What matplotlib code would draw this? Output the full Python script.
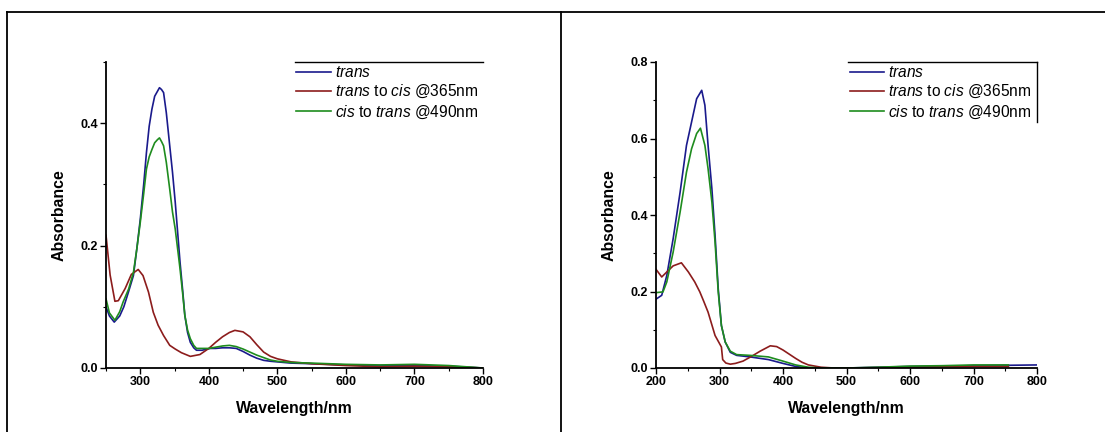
import matplotlib
matplotlib.use("Agg")
import matplotlib.pyplot as plt
from matplotlib.lines import Line2D
from matplotlib.ticker import MultipleLocator, FormatStrFormatter

plt.rcParams['font.family'] = ['Liberation Sans', 'DejaVu Sans']
plt.rcParams['mathtext.fontset'] = 'custom'
plt.rcParams['mathtext.rm'] = 'Liberation Sans'
plt.rcParams['mathtext.it'] = 'Liberation Sans:italic'

# ---------------- Left panel data ----------------
L_wl_trans = [250, 255, 262, 270, 276, 283, 290, 295, 300, 305, 309, 313, 317, 321, 325, 328, 331, 334,
              338, 343, 347, 351, 355, 358, 362, 365, 369, 373, 378, 382, 390, 402, 410, 420, 430,
              440, 450, 460, 470, 480, 490, 500, 520, 550, 600, 650, 700, 750, 800]
L_trans = [0.100, 0.085, 0.075, 0.085, 0.100, 0.125, 0.151, 0.195, 0.243, 0.300, 0.352, 0.395, 0.423,
           0.444, 0.452, 0.458, 0.455, 0.450, 0.417, 0.363, 0.320, 0.271, 0.215, 0.173, 0.125, 0.086,
           0.058, 0.042, 0.033, 0.029, 0.029, 0.032, 0.032, 0.033, 0.033, 0.032, 0.027, 0.021, 0.016,
           0.0125, 0.011, 0.010, 0.008, 0.007, 0.005, 0.004, 0.004, 0.003, 0.000]

L_wl_cis = [250, 256, 263, 268, 278, 287, 297, 304, 312, 319, 326, 334, 343, 351, 360, 373, 387, 400,
            410, 420, 430, 438, 450, 460, 470, 480, 490, 500, 520, 550, 600, 650, 700, 750, 800]
L_cis = [0.217, 0.152, 0.109, 0.110, 0.130, 0.153, 0.161, 0.151, 0.124, 0.091, 0.070, 0.053, 0.037,
         0.031, 0.025, 0.019, 0.022, 0.032, 0.042, 0.051, 0.058, 0.0615, 0.059, 0.051, 0.038, 0.026,
         0.019, 0.015, 0.010, 0.007, 0.004, 0.002, 0.003, 0.002, 0.000]

L_wl_back = [250, 255, 263, 270, 275, 283, 290, 295, 300, 305, 309, 313, 317, 321, 325, 328, 331, 334,
             338, 343, 347, 351, 355, 358, 362, 365, 369, 373, 378, 382, 390, 400, 410, 420, 430, 440,
             450, 460, 470, 480, 490, 500, 520, 550, 600, 650, 700, 750, 800]
L_back = [0.113, 0.090, 0.078, 0.092, 0.108, 0.129, 0.156, 0.195, 0.238, 0.285, 0.325, 0.345, 0.357,
          0.368, 0.373, 0.376, 0.370, 0.363, 0.336, 0.292, 0.255, 0.227, 0.190, 0.162, 0.120, 0.086,
          0.062, 0.048, 0.037, 0.032, 0.032, 0.032, 0.034, 0.036, 0.037, 0.035, 0.031, 0.026, 0.021,
          0.017, 0.013, 0.011, 0.009, 0.008, 0.006, 0.005, 0.006, 0.004, 0.000]

# ---------------- Right panel data ----------------
R_wl_trans = [200, 209, 217, 227, 238, 248, 256, 264, 272, 277, 282, 288, 293, 298, 303, 309, 317, 327,
              348, 377, 400, 420, 440, 460, 500, 550, 600, 650, 700, 750, 800]
R_trans = [0.180, 0.190, 0.242, 0.338, 0.460, 0.582, 0.643, 0.704, 0.726, 0.687, 0.582, 0.469, 0.347,
           0.207, 0.111, 0.068, 0.041, 0.033, 0.029, 0.022, 0.012, 0.004, 0.000, 0.000, 0.000, 0.002,
           0.004, 0.005, 0.006, 0.007, 0.008]

R_wl_cis = [200, 209, 217, 227, 240, 251, 261, 269, 275, 282, 293, 303, 305, 310, 317, 325, 337, 350,
            364, 380, 390, 400, 410, 420, 430, 440, 460, 480, 500, 550, 600, 650, 700, 755]
R_cis = [0.258, 0.238, 0.251, 0.267, 0.275, 0.251, 0.225, 0.199, 0.175, 0.146, 0.085, 0.055, 0.022,
         0.013, 0.010, 0.012, 0.018, 0.030, 0.044, 0.058, 0.056, 0.047, 0.036, 0.025, 0.015, 0.008,
         0.002, 0.000, 0.000, 0.001, 0.002, 0.003, 0.004, 0.004]

R_wl_back = [200, 211, 217, 227, 238, 248, 256, 264, 270, 277, 282, 288, 293, 298, 303, 309, 317, 327,
             348, 377, 400, 420, 440, 460, 500, 550, 600, 650, 700, 755]
R_back = [0.197, 0.199, 0.225, 0.303, 0.408, 0.512, 0.573, 0.613, 0.627, 0.582, 0.521, 0.434, 0.329,
          0.199, 0.111, 0.068, 0.044, 0.035, 0.033, 0.029, 0.018, 0.008, 0.002, 0.000, 0.000, 0.002,
          0.005, 0.006, 0.008, 0.008]

labels = [r'$\mathit{trans}$',
          r'$\mathit{trans}$ to $\mathit{cis}$ @365nm',
          r'$\mathit{cis}$ to $\mathit{trans}$ @490nm']
colors = ['#1a1a8c', '#8c1c1c', '#1e8c1e']

W, H = 1105, 432
fig = plt.figure(figsize=(W / 100, H / 100), dpi=100)
fig.patch.set_facecolor('white')


def fx(px):
    return px / W


def fy(py):
    return 1 - py / H


# outer frame lines
for (x0, y0, x1, y1) in [(7, 12, 1105, 12), (7, 12, 7, 432), (561, 12, 561, 432)]:
    fig.add_artist(Line2D([fx(x0), fx(x1)], [fy(y0), fy(y1)], color='black', lw=1.3))

axL = fig.add_axes([fx(106), fy(368), fx(483) - fx(106), fy(62) - fy(368)])
axR = fig.add_axes([fx(656), fy(368), fx(1037) - fx(656), fy(62) - fy(368)])

panels = [
    (axL, [(L_wl_trans, L_trans), (L_wl_cis, L_cis), (L_wl_back, L_back)],
     (250, 800), (0, 0.5), [0.0, 0.2, 0.4], 0.501),
    (axR, [(R_wl_trans, R_trans), (R_wl_cis, R_cis), (R_wl_back, R_back)],
     (200, 800), (0, 0.8), [0.0, 0.2, 0.4, 0.6, 0.8], 0.504),
]

for ax, series, xl, yl, yt, legx in panels:
    for (x, y), c, lab in zip(series, colors, labels):
        ax.plot(x, y, color=c, lw=1.2, label=lab)
    ax.set_xlim(*xl)
    ax.set_ylim(*yl)
    ax.set_xticks([t for t in range(200, 801, 100) if t >= xl[0]])
    ax.xaxis.set_minor_locator(MultipleLocator(50))
    ax.set_yticks(yt)
    ax.yaxis.set_minor_locator(MultipleLocator(0.1))
    ax.yaxis.set_major_formatter(FormatStrFormatter('%.1f'))
    for s in ['top', 'right']:
        ax.spines[s].set_visible(False)
    for s in ['left', 'bottom']:
        ax.spines[s].set_linewidth(1.3)
    ax.tick_params(which='major', direction='out', length=4, width=1.0, labelsize=9, pad=2)
    ax.tick_params(which='minor', direction='out', length=2.5, width=0.8)
    for lbl in ax.get_xticklabels() + ax.get_yticklabels():
        lbl.set_fontweight('bold')
    ax.set_xlabel('Wavelength/nm', fontsize=11.4, fontweight='bold', labelpad=9)
    ax.set_ylabel('Absorbance', fontsize=11.4, fontweight='bold', labelpad=10)
    ax.set_facecolor('none')
    ax.legend(loc='upper left', bbox_to_anchor=(legx, 0.995), frameon=False, fontsize=11.2,
              handlelength=2.2, handletextpad=0.3, labelspacing=0.2, borderaxespad=0,
              borderpad=0.1)
    ax.plot([legx, 1.0], [1.0, 1.0], transform=ax.transAxes, color='black', lw=1.0, clip_on=False)

axR.plot([1.0, 1.0], [1.0, 0.804], transform=axR.transAxes, color='black', lw=1.0, clip_on=False)

fig.savefig('out.png', dpi=100, facecolor='white')
